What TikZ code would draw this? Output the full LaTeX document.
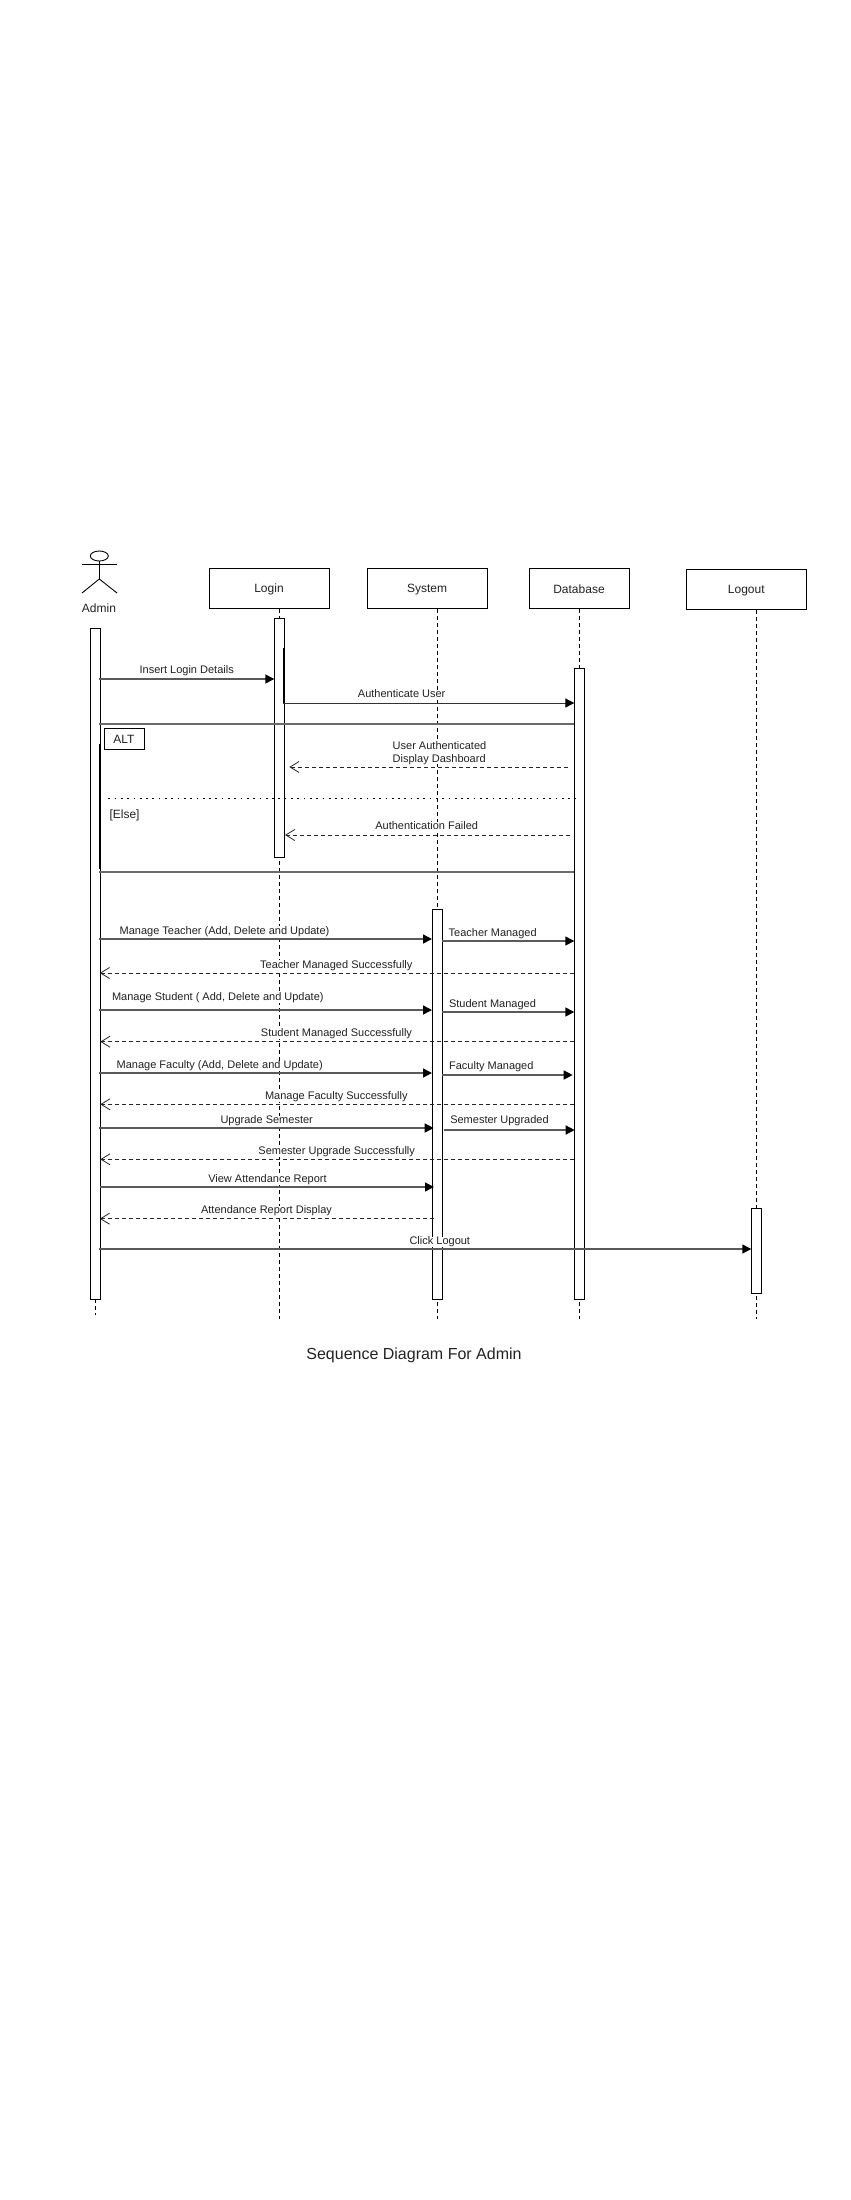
\documentclass[tikz,border=0pt]{standalone}
\usepackage{fontspec}
\setmainfont{Liberation Sans}
\usetikzlibrary{arrows.meta,shapes.geometric}
\definecolor{ln}{HTML}{5A5A5A}
\definecolor{fr}{HTML}{6A6A6A}
\definecolor{tx}{HTML}{222222}
\tikzset{
  objbox/.style={draw=black,line width=1pt,fill=white,inner sep=0pt},
  objtext/.style={inner sep=0pt,text=tx,yshift=-0.6pt,font=\fontsize{12}{14}\selectfont},
  actbox/.style={draw=black,line width=1pt,fill=white,inner sep=0pt,minimum width=10pt},
  lifeline/.style={draw=black,line width=0.9pt,dash pattern=on 3.6pt off 3.4pt},
  syncmsg/.style={draw=ln,line width=1.4pt,-{Triangle[length=9pt,width=9pt,color=black]}},
  thinmsg/.style={draw=black!80,line width=1pt,-{Triangle[length=9pt,width=9pt,color=black]}},
  retmsg/.style={draw=black!85,line width=1pt,dash pattern=on 4pt off 3pt,-{Straight Barb[length=9pt,width=11pt,line width=0.8pt]}},
  framerule/.style={draw=fr,line width=1.4pt},
  frameside/.style={draw=black,line width=1.2pt},
  framedots/.style={draw=black,line width=1.3pt,dash pattern=on 1.7pt off 4.6pt},
  msglabel/.style={fill=white,inner sep=0pt,text=tx,yshift=-1.2pt,text height=8pt,text depth=2pt,font=\fontsize{11}{13}\selectfont},
  actorlimb/.style={draw=black,line width=0.9pt},
}
\newcommand{\msgline}[5]{\coordinate (#1a) at (#3,#5);\coordinate (#1b) at (#4,#5);\draw[#2] (#1a) -- (#1b);}
\begin{document}
\begin{tikzpicture}[x=1pt,y=-1pt]
\useasboundingbox (0,0) rectangle (851,2200);
% actor
\node[draw=black,line width=0.9pt,ellipse,minimum width=18pt,minimum height=10pt,inner sep=0pt] (head) at (99.3,556) {};
\coordinate (armL) at (82,564.7);
\coordinate (armR) at (117,564.7);
\coordinate (hip) at (99.3,579);
\coordinate (legL) at (82,593);
\coordinate (legR) at (117,593);
\draw[actorlimb] (head.south) -- (hip);
\draw[actorlimb] (armL) -- (armR);
\draw[actorlimb] (legL) -- (hip) -- (legR);
\node[objtext] (admin) at (99,607.6) {Admin};
% objects
\node[objbox,minimum width=120pt,minimum height=40.3pt] (login) at (269.3,588.8) {};
\node[objbox,minimum width=120.4pt,minimum height=40.3pt] (system) at (427.5,588.8) {};
\node[objbox,minimum width=100.4pt,minimum height=40.3pt] (database) at (579.5,588.8) {};
\node[objbox,minimum width=120pt,minimum height=40.3pt] (logout) at (746.3,589.8) {};
\node[objtext] (logintxt) at (269,588.8) {Login};
\node[objtext] (systemtxt) at (427,588.8) {System};
\node[objtext] (databasetxt) at (579,588.8) {Database};
\node[objtext] (logouttxt) at (746.3,589.8) {Logout};
% lifeline ends
\coordinate (loginend) at (279.3,1318.7);
\coordinate (sysend) at (437.3,1318.7);
\coordinate (dbend) at (579.3,1318.7);
\coordinate (logoutend) at (756.3,1318.7);
\coordinate (adminend) at (95.3,1315);
\coordinate (adminstart) at (95.3,1299);
\coordinate (loginstart) at (279.3,609);
\coordinate (sysstart) at (437.3,609);
\coordinate (dbstart) at (579.3,609);
\coordinate (logoutstart) at (756.3,610);
\draw[lifeline] (loginstart) -- (loginend);
\draw[lifeline] (sysstart) -- (sysend);
\draw[lifeline] (dbstart) -- (dbend);
\draw[lifeline] (logoutstart) -- (logoutend);
\draw[lifeline] (adminstart) -- (adminend);
% activations
\node[actbox,minimum height=670.3pt] (adminact) at (95.3,963.85) {};
\node[actbox,minimum height=238.3pt] (loginact) at (279.3,737.85) {};
\node[actbox,minimum height=630.3pt] (dbact) at (579.3,983.85) {};
\node[actbox,minimum height=389.3pt] (sysact) at (437.3,1104.35) {};
\node[actbox,minimum height=84.3pt] (logoutact) at (756.3,1250.85) {};
% alt frame
\coordinate (ftl) at (99.3,724);
\coordinate (ftr) at (574.3,724);
\coordinate (fbl) at (99.3,872);
\coordinate (fbr) at (574.3,872);
\coordinate (fsa) at (99.7,744);
\coordinate (fsb) at (99.7,869);
\coordinate (da) at (108.3,798.7);
\coordinate (db) at (576,798.7);
\draw[framerule] (ftl) -- (ftr);
\draw[framerule] (fbl) -- (fbr);
\draw[frameside] (fsa) -- (fsb);
\draw[framedots] (da) -- (db);
\node[draw=black,line width=1pt,fill=white,inner sep=0pt,minimum width=40.4pt,minimum height=20.6pt] (alt) at (124.5,739) {};
\node[objtext] (alttxt) at (124,738.6) {ALT};
\node[msglabel,font=\fontsize{12}{14}\selectfont,anchor=west,fill=none] (else) at (109.3,814) {[Else]};
% login stem
\coordinate (stema) at (283.3,648);
\coordinate (stemb) at (283.3,703);
\draw[frameside] (stema) -- (stemb);
% messages
\msgline{m1}{syncmsg}{99.3}{274.3}{679}
\msgline{m2}{thinmsg}{283.3}{574.3}{703}
\msgline{m3}{retmsg}{567.7}{289.3}{767}
\msgline{m4}{retmsg}{570}{285}{835}
\msgline{m5}{syncmsg}{99.3}{432}{939}
\msgline{m6}{syncmsg}{442.3}{574.3}{941}
\msgline{m7}{retmsg}{574.3}{99.8}{973}
\msgline{m8}{syncmsg}{99.3}{432}{1010}
\msgline{m9}{syncmsg}{442.3}{574.3}{1012}
\msgline{m10}{retmsg}{574.3}{100.3}{1041.7}
\msgline{m11}{syncmsg}{99.3}{432}{1073}
\msgline{m12}{syncmsg}{442.3}{572.7}{1075}
\msgline{m13}{retmsg}{574.3}{100.3}{1104.3}
\msgline{m14}{syncmsg}{99.3}{433.7}{1128}
\msgline{m15}{syncmsg}{444}{574.7}{1130}
\msgline{m16}{retmsg}{574.3}{100.3}{1159.3}
\msgline{m17}{syncmsg}{100.3}{434}{1187}
\msgline{m18}{retmsg}{433.7}{99.8}{1218.7}
\msgline{m19}{syncmsg}{99.3}{751.3}{1249}
% labels
\node[msglabel] (l1) at (186.7,669.5) {Insert Login Details};
\node[msglabel] (l2) at (401.7,693.5) {Authenticate User};
\node[msglabel,align=left,text height=,text depth=,font=\fontsize{11}{13}\selectfont] (l3) at (439.5,751.5) {User Authenticated\\Display Dashboard};
\node[msglabel] (l4) at (426.7,825.5) {Authentication Failed};
\node[msglabel] (l5) at (224.5,930) {Manage Teacher (Add, Delete and Update)};
\node[msglabel] (l6) at (492.7,932) {Teacher Managed};
\node[msglabel] (l7) at (336.3,964) {Teacher Managed Successfully};
\node[msglabel] (l8) at (217.8,996.3) {Manage Student ( Add, Delete and Update)};
\node[msglabel] (l9) at (492.5,1003) {Student Managed};
\node[msglabel] (l10) at (336.5,1032.3) {Student Managed Successfully};
\node[msglabel] (l11) at (219.7,1064.3) {Manage Faculty (Add, Delete and Update)};
\node[msglabel] (l12) at (491.3,1065.3) {Faculty Managed};
\node[msglabel] (l13) at (336.3,1095.3) {Manage Faculty Successfully};
\node[msglabel] (l14) at (266.7,1119.3) {Upgrade Semester};
\node[msglabel] (l15) at (499.5,1119.3) {Semester Upgraded};
\node[msglabel] (l16) at (336.7,1150.3) {Semester Upgrade Successfully};
\node[msglabel] (l17) at (267.5,1178.3) {View Attendance Report};
\node[msglabel] (l18) at (266.5,1209.3) {Attendance Report Display};
\node[msglabel] (l19) at (439.8,1240.3) {Click Logout};
\node[inner sep=0pt,text=tx,font=\fontsize{16}{19}\selectfont] (title) at (414,1355.4) {Sequence Diagram For Admin};
\end{tikzpicture}
\end{document}
